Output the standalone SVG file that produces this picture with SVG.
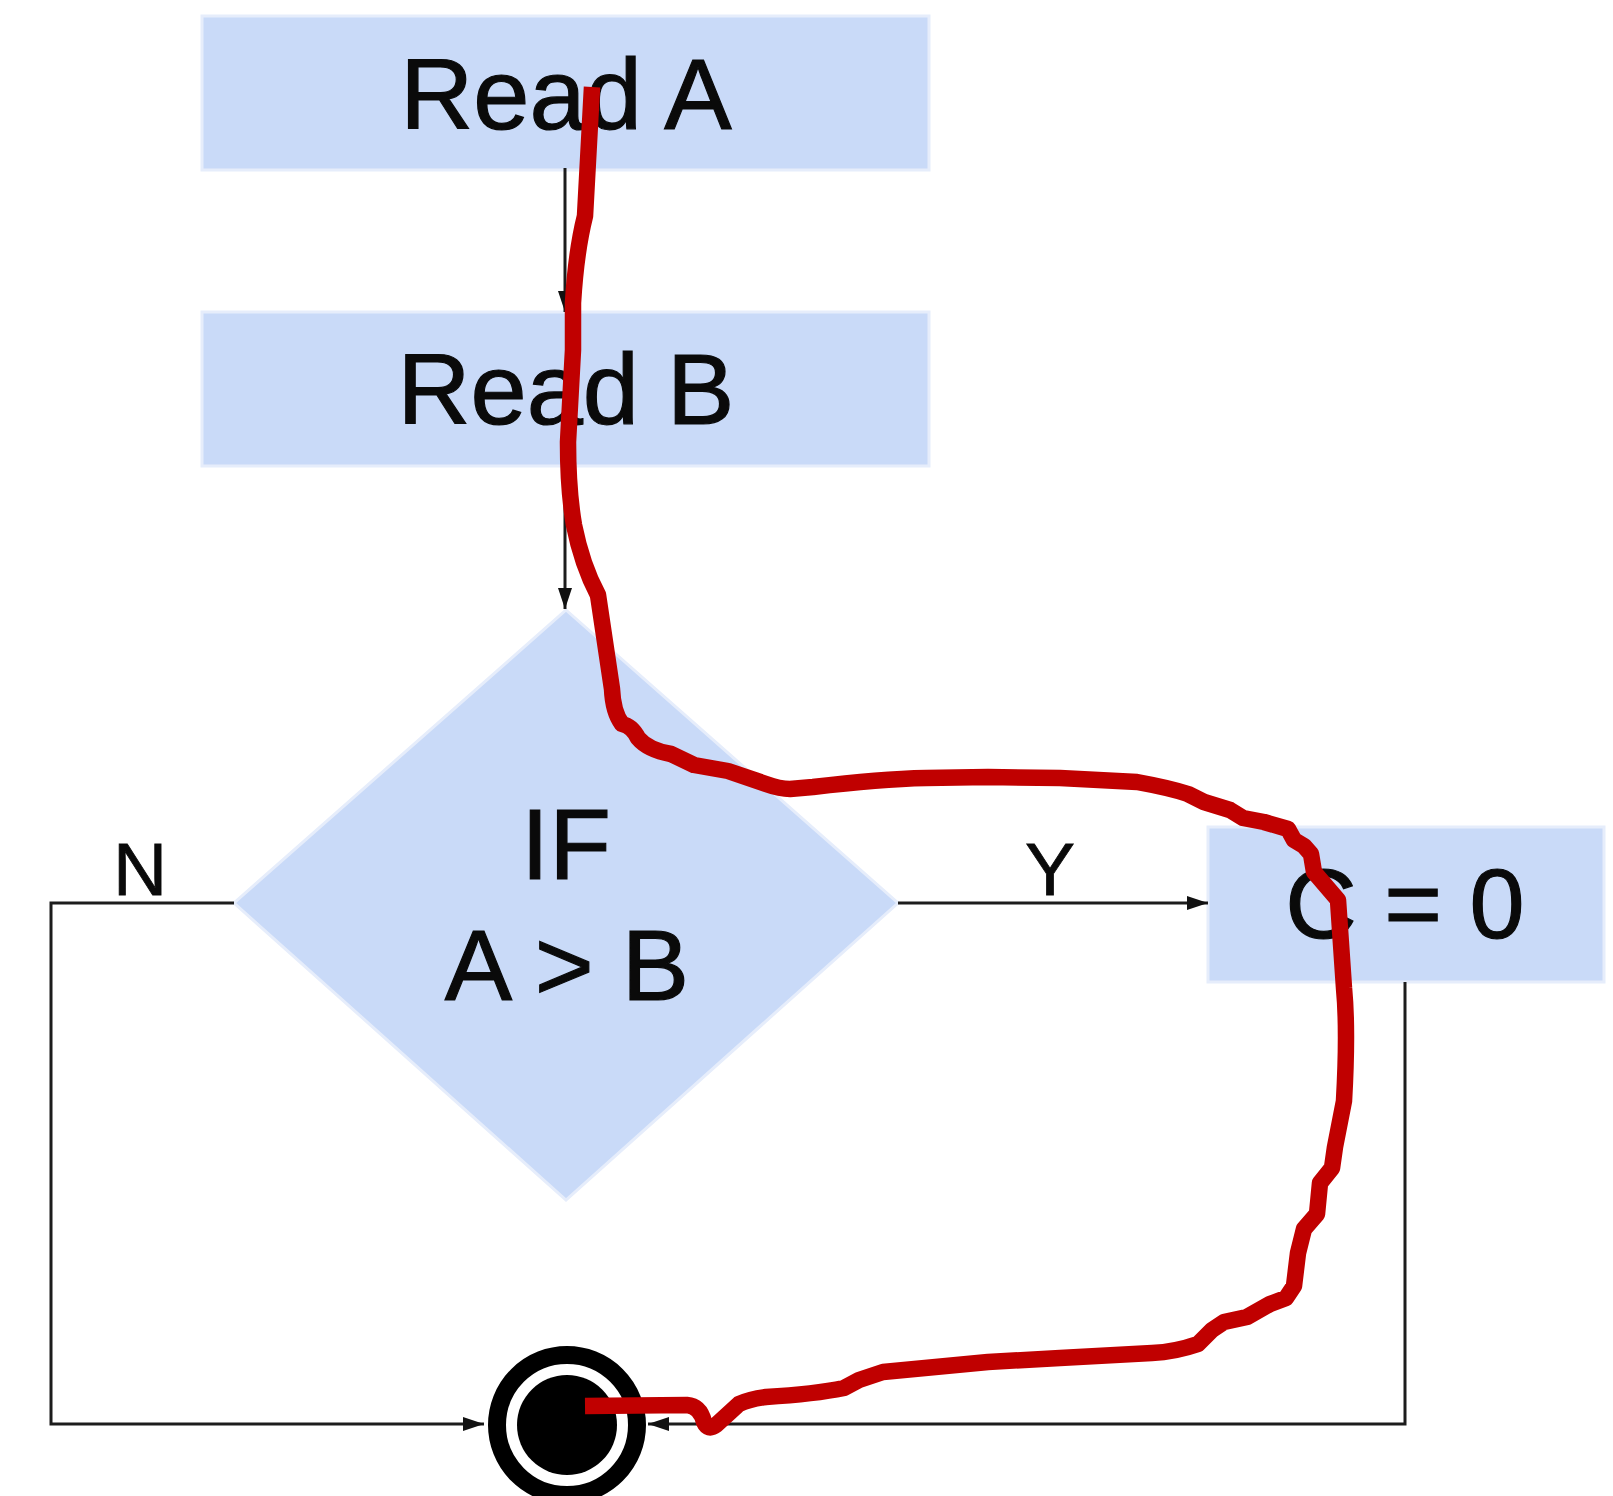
<svg xmlns="http://www.w3.org/2000/svg" width="1613" height="1496" viewBox="0 0 1613 1496">
<style>
.n{fill:#c9daf8;stroke:#e6edfb;stroke-width:3}
.t{font-family:"Liberation Sans",Arial,sans-serif;font-size:101px;fill:#0a0a0a;stroke:#0a0a0a;stroke-width:1.2;text-anchor:middle}
.l{font-size:75px;stroke-width:.8}
.c{fill:none;stroke:#1c1c1c;stroke-width:3}
</style>
<defs>
<marker id="a" markerUnits="userSpaceOnUse" markerWidth="22" markerHeight="20" refX="21" refY="10" orient="auto"><path d="M0 3 L21 10 L0 17 Z" fill="#111"/></marker>
</defs>
<rect width="1613" height="1496" fill="#fff"/>
<g id="node-read-a"><rect class="n" x="202" y="16" width="727" height="154"/><text class="t" x="566" y="129">Read A</text></g>
<g id="node-read-b"><rect class="n" x="202" y="312" width="727" height="154"/><text class="t" x="566" y="424">Read B</text></g>
<g id="node-if"><polygon class="n" points="566,610 898,903 566,1200 234,903"/><text class="t" x="566" y="879">IF</text><text class="t" x="567" y="1000">A &gt; B</text></g>
<g id="node-c"><rect class="n" x="1208" y="827" width="396" height="155"/><text class="t" x="1405" y="938" style="font-size:99px">C = 0</text></g>
<g id="node-end"><circle cx="567" cy="1425" r="70" fill="#fff" stroke="#000" stroke-width="18"/><circle cx="567" cy="1425" r="50" fill="#000"/></g>
<g id="connectors">
<path class="c" marker-end="url(#a)" d="M565 168V312"/>
<path class="c" marker-end="url(#a)" d="M565 466V609"/>
<path class="c" marker-end="url(#a)" d="M898 903H1208"/>
<path class="c" d="M234 903H51V1424H484" marker-end="url(#a)"/>
<path class="c" d="M1405 982V1424H648" marker-end="url(#a)"/>
</g>
<g id="labels"><text class="t l" x="140" y="895">N</text><text class="t l" x="1050" y="895">Y</text></g>
<path id="scribble" fill="none" stroke="#c00000" stroke-width="16.5" stroke-linejoin="round" d="M592 87 L585 216 Q576 252 573 303 L573 350 L568 442 Q568 490 574 525 Q582 565 598 595 L612 689 Q613 712 622 724 Q632 726 638 738 Q648 750 671 754 L694 765 L728 771 L766 784 Q780 789 790 789 L813 787 Q880 779 926 778 L988 777 L1060 778 L1137 782 Q1170 788 1188 794 L1204 802 L1230 810 L1243 818 L1264 822 L1288 829 L1294 840 L1304 846 L1311 854 L1314 872 L1338 900 L1344 988 Q1348 1030 1344 1101 L1335 1147 L1332 1168 L1320 1183 L1317 1214 L1304 1229 L1298 1253 L1294 1286 L1286 1298 L1270 1304 L1247 1317 L1224 1322 L1212 1330 L1198 1344 Q1175 1352 1152 1353 L1060 1358 L988 1362 L883 1372 L859 1380 L844 1388 Q815 1394 766 1397 Q750 1399 739 1404 L716 1425 Q708 1431 704 1422 Q700 1406 687 1405 L585 1406"/>
</svg>
